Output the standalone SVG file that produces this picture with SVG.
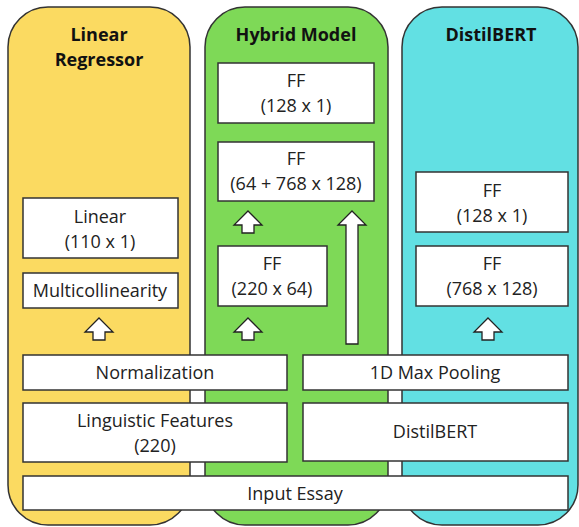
<svg xmlns="http://www.w3.org/2000/svg" width="579" height="527" viewBox="0 0 579 527">
  <style>
    .panel { stroke: #333; stroke-width: 1.5; }
    .box { fill: #fff; stroke: #333; stroke-width: 1.5; }
    .title { font-family: "Open Sans", "Liberation Sans", sans-serif; font-weight: bold; font-size: 18px; fill: #111; text-anchor: middle; }
    .lbl { font-family: "Open Sans", "Liberation Sans", sans-serif; font-size: 18px; fill: #222; text-anchor: middle; }
    .arrow { fill: #fff; stroke: #222; stroke-width: 1.3; stroke-linejoin: miter; }
  </style>
  <defs>
    <path id="upArrow" d="M0 0 L14 14 L6 14 L6 22 L-6 22 L-6 14 L-14 14 Z"/>
  </defs>

  <!-- column panels -->
  <g id="panel-linear">
    <rect class="panel" x="8" y="7" width="182" height="518" rx="40" fill="#FBDA61"/>
    <text class="title" x="99" y="41">Linear</text>
    <text class="title" x="99" y="66">Regressor</text>
  </g>
  <g id="panel-hybrid">
    <rect class="panel" x="205" y="7" width="183" height="518" rx="40" fill="#7ED957"/>
    <text class="title" x="296" y="41">Hybrid Model</text>
  </g>
  <g id="panel-distilbert">
    <rect class="panel" x="402" y="7" width="176" height="518" rx="40" fill="#62E0E3"/>
    <text class="title" x="491" y="41">DistilBERT</text>
  </g>

  <!-- Linear Regressor column -->
  <g id="linear">
    <rect class="box" x="23" y="198" width="155" height="60"/>
    <text class="lbl" x="100" y="223">Linear</text>
    <text class="lbl" x="100" y="248">(110 x 1)</text>
  </g>
  <g id="multicollinearity">
    <rect class="box" x="23" y="273" width="155" height="35"/>
    <text class="lbl" x="100" y="297">Multicollinearity</text>
  </g>

  <!-- Hybrid column -->
  <g id="hybrid-ff-out">
    <rect class="box" x="218" y="63" width="156" height="60"/>
    <text class="lbl" x="296" y="87">FF</text>
    <text class="lbl" x="296" y="112">(128 x 1)</text>
  </g>
  <g id="hybrid-ff-concat">
    <rect class="box" x="218" y="142" width="156" height="59"/>
    <text class="lbl" x="296" y="165">FF</text>
    <text class="lbl" x="296" y="190">(64 + 768 x 128)</text>
  </g>
  <g id="hybrid-ff-ling">
    <rect class="box" x="218" y="246" width="109" height="60"/>
    <text class="lbl" x="272" y="270">FF</text>
    <text class="lbl" x="272" y="295">(220 x 64)</text>
  </g>

  <!-- DistilBERT column -->
  <g id="bert-ff-out">
    <rect class="box" x="416" y="172" width="152" height="60"/>
    <text class="lbl" x="492" y="197">FF</text>
    <text class="lbl" x="492" y="222">(128 x 1)</text>
  </g>
  <g id="bert-ff-hidden">
    <rect class="box" x="416" y="246" width="152" height="60"/>
    <text class="lbl" x="492" y="270">FF</text>
    <text class="lbl" x="492" y="295">(768 x 128)</text>
  </g>

  <!-- shared lower stages -->
  <g id="normalization">
    <rect class="box" x="23" y="355" width="264" height="35"/>
    <text class="lbl" x="155" y="379">Normalization</text>
  </g>
  <g id="max-pooling">
    <rect class="box" x="303" y="355" width="265" height="35"/>
    <text class="lbl" x="435" y="379">1D Max Pooling</text>
  </g>
  <g id="linguistic-features">
    <rect class="box" x="23" y="403" width="264" height="59"/>
    <text class="lbl" x="155" y="427">Linguistic Features</text>
    <text class="lbl" x="155" y="452">(220)</text>
  </g>
  <g id="distilbert-encoder">
    <rect class="box" x="303" y="403" width="265" height="58"/>
    <text class="lbl" x="435" y="438">DistilBERT</text>
  </g>
  <g id="input-essay">
    <rect class="box" x="23" y="476" width="545" height="34"/>
    <text class="lbl" x="295" y="500">Input Essay</text>
  </g>

  <!-- connectors -->
  <g id="connectors">
    <use href="#upArrow" class="arrow" x="99" y="318"/>
    <use href="#upArrow" class="arrow" x="248" y="318"/>
    <use href="#upArrow" class="arrow" x="248" y="211"/>
    <use href="#upArrow" class="arrow" x="488" y="318"/>
    <path class="arrow" d="M352 211 L366 225 L358 225 L358 344 L346 344 L346 225 L338 225 Z"/>
  </g>
</svg>
